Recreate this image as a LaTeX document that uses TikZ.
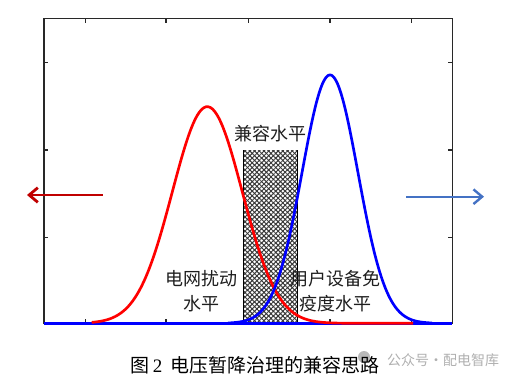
\documentclass[tikz,border=0pt]{standalone}
\usepackage{fontspec}
\setmainfont{Liberation Serif}
\newfontfamily\cjk{Noto Sans CJK SC}
\usetikzlibrary{arrows.meta,patterns.meta}

\tikzset{every picture/.style={line width=0.75pt}}
\tikzset{
	frm/.style={color={rgb, 255:red, 40; green, 40; blue, 40 },line width=0.8},
	gcurve/.style={line width=2, smooth, samples=150},
	hatchfill/.style={pattern={Lines[angle=#1,distance=2.5pt,line width=0.75pt]},pattern color={rgb, 255:red, 55; green, 55; blue, 55 }},
	lbl/.style={inner sep=0.75pt, align=center, text={rgb, 255:red, 30; green, 30; blue, 30 }, font=\cjk\fontsize{13.5}{18.75}\selectfont},
}

\begin{document}
\begin{tikzpicture}[x=0.75pt,y=0.75pt,yscale=-1,xscale=1]
	\useasboundingbox (0,0) rectangle (521,382);
	
	%Shape: Rectangle [frame] 
	\draw [frm]  (44,18.7) rectangle (452.3,323.3) ;
	%Straight Lines [top ticks] 
	\draw [frm]    (85.7,18.7) -- (85.7,23) ;
	\draw [frm]    (166,18.7) -- (166,23) ;
	\draw [frm]    (248.3,18.7) -- (248.3,23) ;
	\draw [frm]    (330,18.7) -- (330,23) ;
	\draw [frm]    (411.7,18.7) -- (411.7,23) ;
	%Straight Lines [bottom ticks] 
	\draw [frm]    (85.7,323.3) -- (85.7,319) ;
	\draw [frm]    (166,323.3) -- (166,319) ;
	\draw [frm]    (248.3,323.3) -- (248.3,319) ;
	\draw [frm]    (330,323.3) -- (330,319) ;
	\draw [frm]    (411.7,323.3) -- (411.7,319) ;
	%Straight Lines [left ticks] 
	\draw [frm]    (44,62.3) -- (48.3,62.3) ;
	\draw [frm]    (44,150) -- (48.3,150) ;
	\draw [frm]    (44,237.7) -- (48.3,237.7) ;
	%Straight Lines [right ticks] 
	\draw [frm]    (452.3,62.3) -- (448,62.3) ;
	\draw [frm]    (452.3,150) -- (448,150) ;
	\draw [frm]    (452.3,237.7) -- (448,237.7) ;
	
	%Shape: Rectangle [hatched band] 
	\fill [hatchfill=45]  (243.3,150) rectangle (297.7,323.3) ;
	\fill [hatchfill=-45]  (243.3,150) rectangle (297.7,323.3) ;
	%Straight Lines 
	\draw    (243.3,150) -- (243.3,323.3) ;
	%Straight Lines 
	\draw    (297.7,150) -- (297.7,323.3) ;
	
	%Straight Lines [base line] 
	\draw [color=blue, line width=2]    (44,323.3) -- (452.3,323.3) ;
	%Curve Lines [red bell] 
	\draw [color=red, gcurve]  plot [domain=91.7:413] (\x,{323.3-216.6*exp(-0.5*((\x-207.3)/35)^2)}) ;
	%Curve Lines [blue bell] 
	\draw [color=blue, gcurve]  plot [domain=228:432] (\x,{323.3-248.3*exp(-0.5*((\x-330)/28)^2)}) ;
	
	%Straight Lines [red arrow] 
	\coordinate (ra) at (102.7,195) ;
	\coordinate (rb) at (27,195) ;
	\draw [color={rgb, 255:red, 192; green, 0; blue, 0 }, line width=2.1, -{Straight Barb[length=6.5pt,width=11pt]}]    (ra) -- (rb) ;
	%Straight Lines [blue arrow] 
	\coordinate (ba) at (406,196.7) ;
	\coordinate (bb) at (484,196.7) ;
	\draw [color={rgb, 255:red, 68; green, 114; blue, 196 }, line width=1.8, -{Straight Barb[length=6.5pt,width=11pt]}]    (ba) -- (bb) ;
	
	% Text Node
	\node (jr) at (270,133.3) [lbl] {兼容水平};
	% Text Node
	\node (dw) at (201.5,290.8) [lbl] {电网扰动\\水平};
	% Text Node
	\node (yh) at (335.5,290.8) [lbl] {用户设备免\\疫度水平};
	
	%Shape: Circle [logo] 
	\fill [color={rgb, 255:red, 185; green, 185; blue, 185 }]  (364,357) circle (6) ;
	% Text Node
	\node (wm) at (443,360) [inner sep=0.75pt, text={rgb, 255:red, 175; green, 175; blue, 175 }, font=\cjk\fontsize{10.5}{12}\selectfont] {公众号·配电智库};
	% Text Node
	\node (cap) at (255,365) [inner sep=0.75pt, font=\cjk\fontsize{14.25}{16}\selectfont] {图\,{\rmfamily 2}\hspace{6pt}电压暂降治理的兼容思路};
	
\end{tikzpicture}
\end{document}
